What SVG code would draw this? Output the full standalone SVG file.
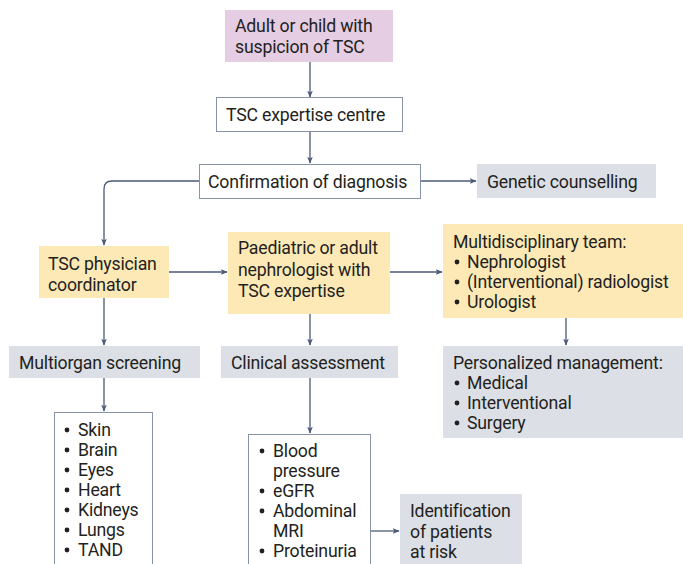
<svg xmlns="http://www.w3.org/2000/svg" width="683" height="564" viewBox="0 0 683 564">
<defs>
<marker id="ah" viewBox="0 0 10 10" refX="9" refY="5" markerWidth="7" markerHeight="7" orient="auto" markerUnits="userSpaceOnUse">
<path d="M0,1 L10,5 L0,9 L2.5,5 Z" fill="#4a5a78"/>
</marker>
<circle id="bu" r="2.4" fill="#231f20"/>
<style>
text{font-family:"Roboto","Liberation Sans",sans-serif;font-size:17.7px;fill:#231f20;letter-spacing:-0.2px}
.wb{fill:#fff;stroke:#8793a8;stroke-width:1}
.pu{fill:#e5cde3}
.ye{fill:#fde9b6}
.gr{fill:#dcdfe6}
.cn{fill:none;stroke:#4a5a78;stroke-width:1.3;marker-end:url(#ah)}
</style>
</defs>
<rect width="683" height="564" fill="#fff"/>
<g id="connectors">
<path class="cn" d="M310,62 V97"/>
<path class="cn" d="M310,131 V163"/>
<path class="cn" d="M421,181 H476"/>
<path class="cn" d="M199,181 H112 Q104,181 104,189 V245"/>
<path class="cn" d="M169,272 H227"/>
<path class="cn" d="M390,272 H442"/>
<path class="cn" d="M104,298 V345"/>
<path class="cn" d="M310,314 V345"/>
<path class="cn" d="M566,318 V345"/>
<path class="cn" d="M104,378 V411"/>
<path class="cn" d="M310,378 V433"/>
<path class="cn" d="M370,531 H399"/>
</g>
<g id="suspicion">
<rect class="pu" x="225" y="10" width="168" height="52"/>
<text x="235" y="32">Adult or child with</text>
<text x="235" y="53">suspicion of TSC</text>
</g>
<g id="centre">
<rect class="wb" x="216.5" y="97.5" width="186" height="34"/>
<text x="226" y="121">TSC expertise centre</text>
</g>
<g id="confirmation">
<rect class="wb" x="199.5" y="164.5" width="221" height="34"/>
<text x="208" y="188">Confirmation of diagnosis</text>
</g>
<g id="genetic">
<rect class="gr" x="477" y="164" width="179" height="34"/>
<text x="487" y="188">Genetic counselling</text>
</g>
<g id="coordinator">
<rect class="ye" x="39" y="246" width="130" height="52"/>
<text x="48" y="270">TSC physician</text>
<text x="48" y="291">coordinator</text>
</g>
<g id="nephrologist">
<rect class="ye" x="228" y="232" width="162" height="82"/>
<text x="238" y="254">Paediatric or adult</text>
<text x="238" y="276">nephrologist with</text>
<text x="238" y="297">TSC expertise</text>
</g>
<g id="team">
<rect class="ye" x="443" y="224" width="240" height="94"/>
<text x="453" y="248">Multidisciplinary team:</text>
<use href="#bu" x="457" y="262"/><text x="467" y="268">Nephrologist</text>
<use href="#bu" x="457" y="282"/><text x="467" y="288">(Interventional) radiologist</text>
<use href="#bu" x="457" y="302"/><text x="467" y="308">Urologist</text>
</g>
<g id="screening">
<rect class="gr" x="9" y="346" width="191" height="32"/>
<text x="19" y="369">Multiorgan screening</text>
</g>
<g id="assessment">
<rect class="gr" x="221" y="346" width="177" height="32"/>
<text x="231" y="369">Clinical assessment</text>
</g>
<g id="management">
<rect class="gr" x="443" y="346" width="240" height="92"/>
<text x="453" y="369">Personalized management:</text>
<use href="#bu" x="457" y="383"/><text x="467" y="389">Medical</text>
<use href="#bu" x="457" y="403"/><text x="467" y="409">Interventional</text>
<use href="#bu" x="457" y="423"/><text x="467" y="429">Surgery</text>
</g>
<g id="organs">
<rect class="wb" x="54.5" y="412.5" width="98" height="160"/>
<use href="#bu" x="67" y="430"/><text x="78" y="436">Skin</text>
<use href="#bu" x="67" y="450"/><text x="78" y="456">Brain</text>
<use href="#bu" x="67" y="470"/><text x="78" y="476">Eyes</text>
<use href="#bu" x="67" y="490"/><text x="78" y="496">Heart</text>
<use href="#bu" x="67" y="510"/><text x="78" y="516">Kidneys</text>
<use href="#bu" x="67" y="530"/><text x="78" y="536">Lungs</text>
<use href="#bu" x="67" y="550"/><text x="78" y="556">TAND</text>
</g>
<g id="tests">
<rect class="wb" x="248.5" y="434.5" width="122" height="140"/>
<use href="#bu" x="262" y="451"/><text x="273" y="457">Blood</text>
<text x="273" y="477">pressure</text>
<use href="#bu" x="262" y="491"/><text x="273" y="497">eGFR</text>
<use href="#bu" x="262" y="511"/><text x="273" y="517">Abdominal</text>
<text x="273" y="537">MRI</text>
<use href="#bu" x="262" y="551"/><text x="273" y="557">Proteinuria</text>
</g>
<g id="risk">
<rect class="gr" x="400" y="494" width="122" height="80"/>
<text x="410" y="517">Identification</text>
<text x="410" y="538">of patients</text>
<text x="410" y="558">at risk</text>
</g>
</svg>
